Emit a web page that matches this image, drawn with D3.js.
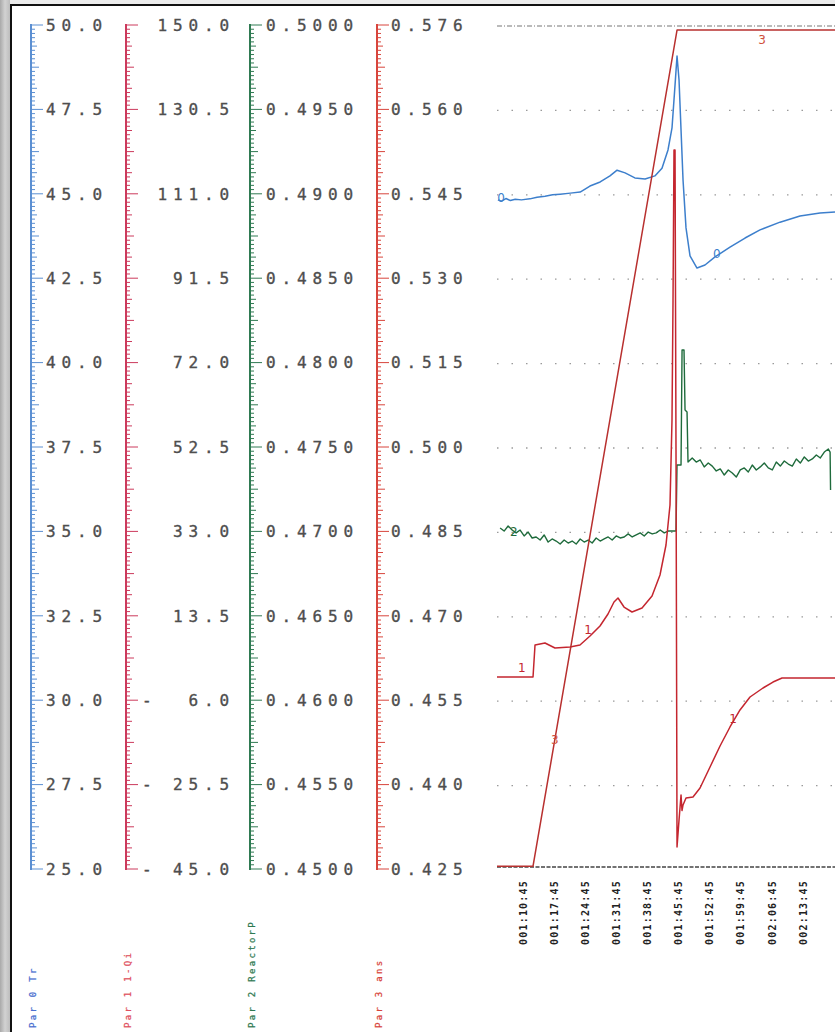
<!DOCTYPE html>
<html><head><meta charset="utf-8">
<script src="https://cdn.jsdelivr.net/npm/d3@7"></script>
<style>html,body{margin:0;padding:0;background:#fff;} svg{display:block;}</style>
</head><body>
<svg id="c" width="835" height="1032"></svg>
<script>
// ---------------- DATA ----------------
const timeTicks  = [70.75, 77.75, 84.75, 91.75, 98.75, 105.75, 112.75, 119.75, 126.75, 133.75]; // minutes
const timeLabels = ["001:10:45","001:17:45","001:24:45","001:31:45","001:38:45","001:45:45","001:52:45","001:59:45","002:06:45","002:13:45"];
const timeDomain = [65, 141];

const trDomain      = [25, 50];
const qDomain       = [-45, 150];
const reactorDomain = [0.45, 0.50];
const ansDomain     = [0.425, 0.576];

const trLabels      = ["50.0","47.5","45.0","42.5","40.0","37.5","35.0","32.5","30.0","27.5","25.0"];
const qLabels       = ["150.0","130.5","111.0","91.5","72.0","52.5","33.0","13.5","-6.0","-25.5","-45.0"];
const reactorLabels = ["0.5000","0.4950","0.4900","0.4850","0.4800","0.4750","0.4700","0.4650","0.4600","0.4550","0.4500"];
const ansLabels     = ["0.576","0.560","0.545","0.530","0.515","0.500","0.485","0.470","0.455","0.440","0.425"];

const axisTitles = ["Par 0 Tr","Par 1 1-Qi","Par 2 ReactorP","Par 3 ans"];

// Par 0 Tr  (blue)
const trSeries = [[65.2,44.82],[66.0,44.78],[67.0,44.86],[68.0,44.80],[69.1,44.84],[70.5,44.82],[72.4,44.85],[74.0,44.90],[75.8,44.93],[77.5,44.97],[79.2,44.99],[81.5,45.02],[83.7,45.05],[85.9,45.23],[88.2,45.35],[90.4,45.53],[92.0,45.70],[93.8,45.62],[96.0,45.47],[98.3,45.44],[100.5,45.53],[102.1,45.76],[103.45,46.30],[104.35,46.95],[105.03,48.22],[105.48,49.08],[105.93,48.37],[106.38,46.89],[106.83,45.41],[107.5,43.99],[108.4,43.16],[109.97,42.80],[111.77,42.89],[114.02,43.13],[117.39,43.42],[120.77,43.69],[124.14,43.93],[128.64,44.16],[133.13,44.34],[137.63,44.43],[141.0,44.46]];

// Par 1 1-Qi (red)
const qSeries = [[65.0,-0.64],[73.1,-0.64],[73.55,6.76],[75.79,7.22],[78.04,6.07],[81.42,6.29],[83.66,6.76],[85.91,8.83],[88.16,11.14],[89.96,13.92],[91.31,16.69],[92.21,17.61],[93.56,15.53],[95.36,14.38],[97.61,15.30],[99.86,18.08],[101.65,22.93],[103.0,29.86],[103.9,39.10],[104.35,58.74],[104.58,86.46],[104.8,121.12],[105.03,121.12],[105.25,51.81],[105.48,-39.91],[105.93,-33.68],[106.38,-27.90],[106.6,-31.5],[106.83,-30.21],[107.5,-28.59],[109.07,-28.36],[110.65,-26.28],[112.9,-21.43],[115.15,-16.58],[117.39,-12.19],[119.64,-8.26],[121.89,-5.26],[124.81,-3.18],[127.06,-1.80],[129.09,-0.87],[141.0,-0.87]];

// Par 2 ReactorP (green)
const reactorSeries = [[65.7,0.47020],[66.6,0.47002],[67.5,0.47032],[68.4,0.47008],[69.3,0.46991],[70.2,0.47008],[71.1,0.46973],[72.0,0.46996],[72.9,0.46961],[73.8,0.46967],[74.7,0.46949],[75.6,0.46979],[76.5,0.46937],[77.4,0.46955],[78.3,0.46943],[79.2,0.46925],[80.1,0.46949],[81.0,0.46931],[81.9,0.46943],[82.8,0.46925],[83.7,0.46955],[84.6,0.46937],[85.5,0.46949],[86.4,0.46931],[87.3,0.46961],[88.2,0.46943],[89.1,0.46955],[90.0,0.46967],[90.9,0.46949],[91.8,0.46973],[92.7,0.46961],[93.6,0.46967],[94.5,0.46985],[95.4,0.46967],[96.3,0.46979],[97.2,0.46991],[98.1,0.46973],[99.0,0.46996],[99.9,0.46985],[100.8,0.46991],[101.7,0.47008],[102.6,0.46991],[103.5,0.47002],[104.4,0.47002],
 [105.25,0.47002],[105.48,0.47393],[106.38,0.47393],[106.61,0.48075],[107.05,0.48075],[107.28,0.47719],[107.73,0.47707],[107.95,0.47411],
 [108.9,0.47435],[109.8,0.47411],[110.7,0.47423],[111.6,0.47382],[112.5,0.47405],[113.4,0.47387],[114.3,0.47358],[115.2,0.47370],[116.1,0.47334],[117.0,0.47364],[117.9,0.47346],[118.8,0.47322],[119.7,0.47364],[120.6,0.47376],[121.5,0.47352],[122.4,0.47393],[123.3,0.47364],[124.2,0.47382],[125.1,0.47405],[126.0,0.47376],[126.9,0.47364],[127.8,0.47411],[128.7,0.47387],[129.6,0.47417],[130.5,0.47399],[131.4,0.47387],[132.3,0.47429],[133.2,0.47405],[134.1,0.47441],[135.0,0.47417],[135.9,0.47429],[136.8,0.47453],[137.7,0.47435],[138.6,0.47470],[139.5,0.47488],[139.9,0.47470],[140.0,0.47245]];

// Par 3 ans (ramp)
const ansSeries = [[65.0,0.4255],[73.1,0.4255],[105.48,0.5751],[141.0,0.5751]];

// curve marker positions (minutes)
const trMarks = [65.9, 114.4];
const qMarks = [70.6, 85.5, 118.1];
const reactorMarks = [68.8];
const ansMarks = [78.0, 124.6];

// ---------------- DRAW ----------------
const svg = d3.select("#c");
const Y0 = 869, Y1 = 25;
const PL = 497, PR = 835;

const x = d3.scaleLinear().domain(timeDomain).range([PL, PR]);
const yTr = d3.scaleLinear().domain(trDomain).range([Y0, Y1]);
const yQ = d3.scaleLinear().domain(qDomain).range([Y0, Y1]);
const yRe = d3.scaleLinear().domain(reactorDomain).range([Y0, Y1]);
const yAns = d3.scaleLinear().domain(ansDomain).range([Y0, Y1]);

// frame
const defs = svg.append("defs");
const g = defs.append("linearGradient").attr("id","lg").attr("x1","0").attr("x2","1").attr("y1","0").attr("y2","0");
g.append("stop").attr("offset","0").attr("stop-color","#a9a9a9");
g.append("stop").attr("offset","0.5").attr("stop-color","#d2d2d2");
g.append("stop").attr("offset","1").attr("stop-color","#bdbdbd");
svg.append("rect").attr("x",0).attr("y",0).attr("width",835).attr("height",4).attr("fill","#ececec");
svg.append("rect").attr("x",0).attr("y",0).attr("width",10).attr("height",1032).attr("fill","url(#lg)");
svg.append("line").attr("x1",10).attr("x2",835).attr("y1",5).attr("y2",5).attr("stroke","#111").attr("stroke-width",2);
svg.append("line").attr("x1",11).attr("x2",11).attr("y1",4).attr("y2",1032).attr("stroke","#111").attr("stroke-width",2);

// axes
const FS = 16, PITCH = 15.5, LS = PITCH - FS*0.602;
const axes = [
  {scale:yTr, dom:trDomain, labels:trLabels, ax:31, lx:46, field:0, color:"#5b8fd2", title:axisTitles[0], tcolor:"#4a6fd0"},
  {scale:yQ, dom:qDomain, labels:qLabels, ax:126, lx:142, field:6, color:"#cc3a5c", title:axisTitles[1], tcolor:"#e05060"},
  {scale:yRe, dom:reactorDomain, labels:reactorLabels, ax:250, lx:266, field:0, color:"#2f7a52", title:axisTitles[2], tcolor:"#2f7a52"},
  {scale:yAns, dom:ansDomain, labels:ansLabels, ax:377, lx:391, field:0, color:"#d8453c", title:axisTitles[3], tcolor:"#d8453c"}
];
axes.forEach(a => {
  const gA = svg.append("g");
  const [mn, mx] = a.dom;
  gA.append("line").attr("x1",a.ax).attr("x2",a.ax).attr("y1",a.scale(mx)-1).attr("y2",a.scale(mn)+1)
    .attr("stroke",a.color).attr("stroke-width",2);
  const minor = d3.range(201).map(i => mn + i*(mx-mn)/200);
  gA.selectAll("line.t").data(minor).join("line").attr("class","t")
    .attr("x1",a.ax).attr("x2",(d,i)=> a.ax + (i%20===0 ? 12 : (i%10===0 ? 8 : (i%5===0 ? 6 : 4))))
    .attr("y1",d=>a.scale(d)).attr("y2",d=>a.scale(d))
    .attr("stroke",a.color).attr("stroke-width",1);
  const majors = d3.range(11).map(i => mx - i*(mx-mn)/10);
  majors.forEach((v,i) => {
    const lab = a.labels[i];
    const t = gA.append("text").attr("y",a.scale(v)).attr("dy","0.36em")
      .attr("font-family","DejaVu Sans Mono, monospace").attr("font-size",FS)
      .attr("letter-spacing",LS).attr("fill","#4e4e4e").attr("stroke","#4e4e4e").attr("stroke-width",0.35);
    if (a.field) {
      const neg = lab.startsWith("-");
      const body = neg ? lab.slice(1) : lab;
      if (neg) t.append("tspan").attr("x",a.lx).text("-");
      t.append("tspan").attr("x",a.lx + (a.field - body.length)*PITCH).text(body);
    } else {
      t.attr("x",a.lx).text(lab);
    }
  });
  svg.append("text").attr("transform",`translate(${a.ax+5},1028) rotate(-90)`)
    .attr("font-family","DejaVu Sans Mono, monospace").attr("font-size",9).attr("letter-spacing",2.3)
    .attr("fill",a.tcolor).attr("stroke",a.tcolor).attr("stroke-width",0.25).text(a.title);
});

// grid
const gridVals = d3.range(1,10).map(i => trDomain[1] - i*(trDomain[1]-trDomain[0])/10);
svg.append("g").selectAll("line").data(gridVals).join("line")
  .attr("x1",PL).attr("x2",PR).attr("y1",d=>yTr(d)+1).attr("y2",d=>yTr(d)+1)
  .attr("stroke","#9a9a9a").attr("stroke-width",1.3).attr("stroke-dasharray","1.5,13");
svg.append("line").attr("x1",PL).attr("x2",PR).attr("y1",yTr(trDomain[1])+1).attr("y2",yTr(trDomain[1])+1)
  .attr("stroke","#777").attr("stroke-width",1.2).attr("stroke-dasharray","5,2,1,2");

// x axis
const xg = svg.append("g").attr("transform","translate(0,867)");
xg.append("line").attr("x1",PL).attr("x2",PR).attr("y1",0).attr("y2",0)
  .attr("stroke","#444").attr("stroke-width",1.6).attr("stroke-dasharray","4,1.5");
const xa = d3.axisBottom(x).tickValues(timeTicks).tickFormat((d,i)=>timeLabels[i]).tickSize(0);
const xAxisG = xg.append("g").call(xa);
xAxisG.select(".domain").remove();
xAxisG.selectAll("text").attr("transform","rotate(-90)").attr("x",-13).attr("y",0).attr("dy","0.35em")
  .attr("text-anchor","end").attr("font-family","DejaVu Sans Mono, monospace").attr("font-size",10)
  .attr("font-weight","bold").attr("letter-spacing",1.2).attr("fill","#222");

// series
const plot = svg.append("g");
function drawLine(data, ys, color, w){
  plot.append("path").datum(data).attr("fill","none").attr("stroke",color).attr("stroke-width",w)
    .attr("stroke-linejoin","round")
    .attr("d", d3.line().x(d=>x(d[0])).y(d=>ys(d[1])));
}
function valueAt(data, t){
  const i = d3.bisector(d=>d[0]).left(data, t);
  if (i<=0) return data[0][1];
  if (i>=data.length) return data[data.length-1][1];
  const a=data[i-1], b=data[i];
  return a[1] + (b[1]-a[1])*(t-a[0])/(b[0]-a[0]);
}
function drawMarks(data, ys, marks, txt, color, offs){
  marks.forEach((t,k) => {
    plot.append("text").attr("x",x(t)).attr("y",ys(valueAt(data,t)) + offs[k])
      .attr("text-anchor","middle").attr("dy","0.35em")
      .attr("font-family","DejaVu Sans, sans-serif").attr("font-size",12).attr("fill",color).text(txt);
  });
}
drawLine(reactorSeries, yRe, "#1f6b3c", 1.4);
drawLine(trSeries, yTr, "#3d7fcc", 1.5);
drawLine(qSeries, yQ, "#c4262f", 1.5);
drawLine(ansSeries, yAns, "#b8302f", 1.5);

drawMarks(trSeries, yTr, trMarks, "0", "#3d7fcc", [-3, -2]);
drawMarks(qSeries, yQ, qMarks, "1", "#c4262f", [-9, -8, -3]);
drawMarks(reactorSeries, yRe, reactorMarks, "2", "#1f6b3c", [0]);
drawMarks(ansSeries, yAns, ansMarks, "3", "#d0503c", [0, 10]);
</script>
</body></html>
